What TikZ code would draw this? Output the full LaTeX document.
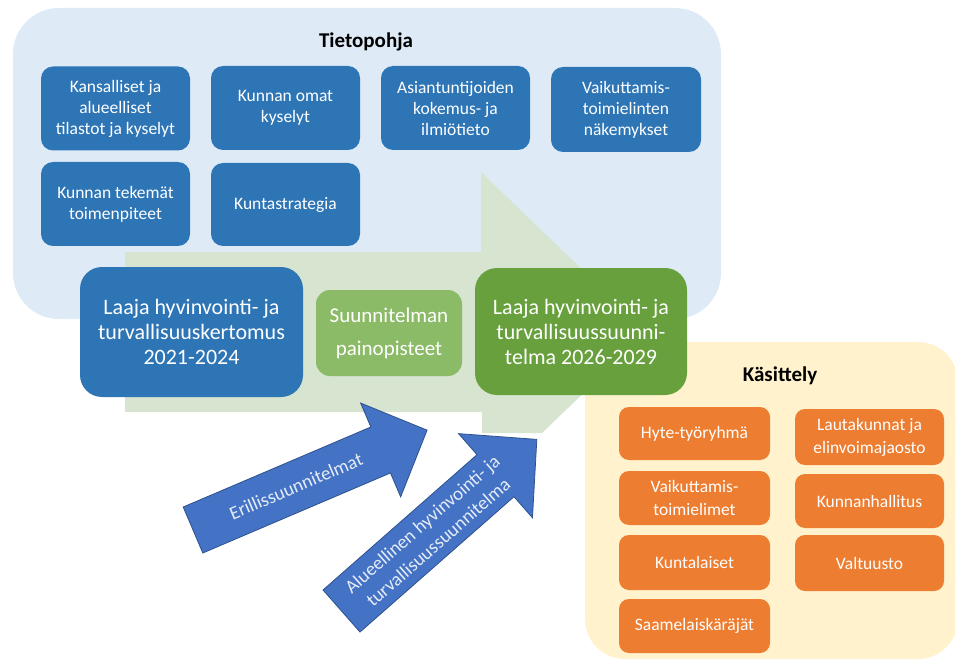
\documentclass[tikz,border=0pt]{standalone}
\usepackage{fontspec}
\setmainfont{Carlito}
\definecolor{bgblue}{HTML}{DEEBF7}
\definecolor{bgyellow}{HTML}{FFF2CC}
\definecolor{arrowgreen}{HTML}{D6E4D0}
\definecolor{boxblue}{HTML}{2E75B6}
\definecolor{midgreen}{HTML}{8CBB67}
\definecolor{darkgreen}{HTML}{67A03C}
\definecolor{orng}{HTML}{ED7D31}
\definecolor{arrowblue}{HTML}{4472C4}
\definecolor{arrowedge}{HTML}{2F528F}
\definecolor{arrowtext}{HTML}{E4ECF7}
\begin{document}
\begin{tikzpicture}[x=1pt,y=-1pt,
  sbox/.style={rounded corners=12pt, fill=boxblue, text=white, align=center,
    font=\fontsize{17.5}{21}\selectfont, minimum width=149pt, minimum height=84pt, inner sep=0pt},
  obox/.style={rounded corners=10pt, fill=orng, text=white, align=center,
    font=\fontsize{17.5}{23}\selectfont, minimum width=151pt, minimum height=54pt, inner sep=0pt},
  bigbox/.style={rounded corners=22pt, text=white, align=center,
    font=\fontsize{22}{25}\selectfont, inner sep=0pt},
  titletext/.style={font=\bfseries\fontsize{21}{24}\selectfont, text=black},
  bluearrow/.style={fill=arrowblue, draw=arrowedge, line width=0.8pt, line join=miter},
  arrowlabel/.style={text=arrowtext, align=center, font=\fontsize{19}{24}\selectfont, transform shape}
]
\useasboundingbox (0,0) rectangle (955,660);

% backgrounds
\fill[bgblue, rounded corners=46pt] (13,8) rectangle (721,319);
\fill[bgyellow, rounded corners=40pt] (585,342) rectangle (958,659);

% big light green arrow
\fill[arrowgreen] (125,252) -- (481,252) -- (481,172) -- (647,332) -- (542,433)
  -- (482,433) -- (482,412) -- (125,412) -- cycle;

% titles
\node[titletext] (tieto) at (366,42) {Tietopohja};
\node[titletext] (kasit) at (780,376) {Käsittely};

% Tietopohja boxes
\node[sbox] (b1) at (115.5,108.5) {Kansalliset ja\\alueelliset\\tilastot ja kyselyt};
\node[sbox] (b2) at (285.5,108) {Kunnan omat\\kyselyt};
\node[sbox] (b3) at (455.5,108) {Asiantuntijoiden\\kokemus- ja\\ilmiötieto};
\node[sbox, minimum width=150pt, minimum height=85pt] (b4) at (626,109.5) {Vaikuttamis-\\toimielinten\\näkemykset};
\node[sbox] (b5) at (115.5,204) {Kunnan tekemät\\toimenpiteet};
\node[sbox, minimum height=83pt] (b6) at (285.5,204.5) {Kuntastrategia};

% main row boxes
\node[bigbox, fill=boxblue, minimum width=223pt, minimum height=130pt] (kertomus) at (191.5,332)
  {Laaja hyvinvointi- ja\\turvallisuuskertomus\\2021-2024};
\node[bigbox, rounded corners=14pt, fill=midgreen, minimum width=146pt, minimum height=86pt,
  font=\fontsize{21}{33}\selectfont] (paino) at (389,333) {Suunnitelman\\painopisteet};
\node[bigbox, fill=darkgreen, minimum width=212pt, minimum height=127pt] (suunn) at (581,331.5)
  {Laaja hyvinvointi- ja\\turvallisuussuunni-\\telma 2026-2029};

% Käsittely boxes
\node[obox, minimum height=53pt] (o1) at (694.5,433.5) {Hyte-työryhmä};
\node[obox, minimum width=149pt, minimum height=56pt] (o2) at (869.5,437) {Lautakunnat ja\\elinvoimajaosto};
\node[obox] (o3) at (694.5,498) {Vaikuttamis-\\toimielimet};
\node[obox, minimum width=149pt] (o4) at (869.5,501) {Kunnanhallitus};
\node[obox, minimum height=55pt] (o5) at (694.5,562.5) {Kuntalaiset};
\node[obox, minimum width=149pt, minimum height=56pt] (o6) at (869.5,563) {Valtuusto};
\node[obox] (o7) at (694.5,626) {Saamelaiskäräjät};

% blue arrows
\begin{scope}[shift={(193,530)}, rotate=23.1]
  \draw[bluearrow] (0,-25) -- (204,-25) -- (204,-51) -- (254.5,0) -- (204,51) -- (204,25) -- (0,25) -- cycle;
  \node[arrowlabel] (eri) at (112,0) {Erillissuunnitelmat};
\end{scope}
\begin{scope}[shift={(341.5,611)}, rotate=41.3]
  \draw[bluearrow] (0,-28) -- (205,-28) -- (205,-56) -- (260,0) -- (205,56) -- (205,28) -- (0,28) -- cycle;
  \node[arrowlabel] (alue) at (118,0) {Alueellinen hyvinvointi- ja\\turvallisuussuunnitelma};
\end{scope}
\end{tikzpicture}
\end{document}
